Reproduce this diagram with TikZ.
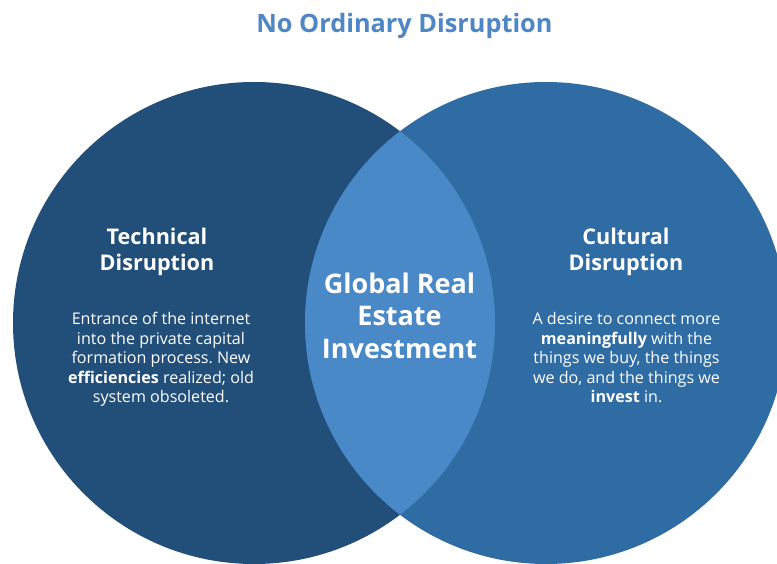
\documentclass[tikz,border=0pt]{standalone}
\usepackage{fontspec}
\setmainfont{Open Sans}
\frenchspacing
\definecolor{leftc}{RGB}{34,79,122}
\definecolor{rightc}{RGB}{47,108,164}
\definecolor{lensc}{RGB}{74,137,200}
\definecolor{titlec}{RGB}{79,134,197}
\begin{document}
\begin{tikzpicture}[x=1pt,y=-1pt,
  heading/.style={text=white,font=\fontsize{21.6}{26}\selectfont\bfseries,align=center,anchor=base,inner sep=0pt},
  body/.style={text=white,font=\fontsize{16.1}{19.4}\selectfont,align=center,anchor=base,inner sep=0pt},
  centre/.style={text=white,font=\fontsize{27}{32.5}\selectfont\bfseries,align=center,anchor=base,inner sep=0pt}]
\useasboundingbox (0,0) rectangle (777,564);
\clip (0,0) rectangle (777,564);
\fill[white] (0,0) rectangle (777,564);
\fill[leftc] (254,323) circle[radius=241pt];
\fill[rightc] (546,323) circle[radius=241pt];
\begin{scope}
  \clip (254,323) circle[radius=241pt];
  \fill[lensc] (546,323) circle[radius=241pt];
\end{scope}
\node[anchor=base,inner sep=0pt,text=titlec,font=\fontsize{25.3}{30}\selectfont\bfseries] (title) at (404.5,33) {No Ordinary Disruption};
\node[heading] (th) at (157,270.5) {Technical\\Disruption};
\node[body] (tb) at (161,402.5) {Entrance of the internet\\into the private capital\\formation process. New\\\textbf{efficiencies} realized; old\\system obsoleted.};
\node[heading] (ch) at (626,270.5) {Cultural\\Disruption};
\node[body] (cb) at (626.5,402.5) {A desire to connect more\\\textbf{meaningfully} with the\\things we buy, the things\\we do, and the things we\\\textbf{invest} in.};
\node[centre] (gr) at (399.5,358) {Global Real\\Estate\\Investment};
\end{tikzpicture}
\end{document}
